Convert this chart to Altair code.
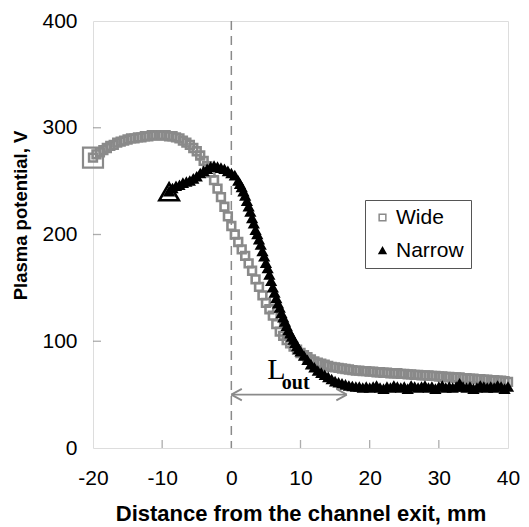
import altair as alt
import numpy as np
import pandas as pd

# ---------------- data ----------------
series_names = ["Wide", "Narrow"]

wide_x = np.arange(-20, 40.01, 0.5)
wide_y = [272, 275, 277, 279, 281, 283, 284, 286, 287, 288, 289, 290, 290, 291, 291, 292, 292, 293, 293, 293, 293,
          293, 292, 292, 291, 290, 288, 286, 284, 281, 278, 274, 269, 264, 258, 251, 243, 235, 226, 217, 208,
          200, 193, 186, 180, 173, 166, 158, 151, 143, 136, 130, 124, 116, 109, 105, 101, 98, 95, 92, 89,
          87, 85, 83, 81, 80, 79, 78, 77, 76, 75.5, 75, 74.5, 74, 73.5, 73, 72.5, 72.5, 72, 72, 71.5,
          71.5, 71, 71, 70.5, 70.5, 70, 70, 70, 69.5, 69.5, 69, 69, 68.5, 68.5, 68, 68, 68, 67.5, 67.5, 67,
          67, 66.5, 66.5, 66, 66, 66, 65.5, 65.5, 65, 65, 64.5, 64.5, 64, 64, 63.5, 63.5, 63, 63, 62.5, 62]

# narrow: 0.5 mm steps, finer (0.25 mm) sampling on the steep part
narrow_x = np.concatenate([np.arange(-9, 1, 0.5), np.arange(1, 10, 0.25), np.arange(10, 40.01, 0.5)])
narrow_y = [240, 243, 245, 246, 248, 249, 250, 252, 254, 257, 259, 261, 263, 264, 263, 262, 261, 259, 257, 255,
            250, 247, 244, 240, 236, 231, 226, 221, 215, 210, 204, 200, 195, 190, 184, 179, 173, 168,
            162, 156, 150, 145, 140, 135, 131, 126, 122, 118, 114, 110, 107, 104, 101, 98, 95, 92.5,
            90,
            86, 82, 78, 75, 72, 70, 68, 66, 64, 62, 61, 60, 59, 58, 57.5, 57, 57, 56, 57, 56,
            57, 58, 56, 55, 57, 56, 58, 57, 56, 57, 55, 58, 57, 56, 57, 58, 56, 57, 55, 57,
            58, 56, 57, 56, 57, 60, 57, 56, 57, 55, 56, 58, 57, 56, 57, 56, 58, 57, 55, 57]

x_tick_values = [-20, -10, 0, 10, 20, 30, 40]
y_tick_values = [0, 100, 200, 300, 400]
inner_x_ticks = [-10, 10, 20, 30]
inner_y_ticks = [100, 200, 300]

exit_position = [0]
lout_start = 0
lout_end = 16.7
lout_level = 50

df = pd.concat([
    pd.DataFrame({"x": wide_x, "y": wide_y, "series": "Wide"}),
    pd.DataFrame({"x": narrow_x, "y": narrow_y, "series": "Narrow"}),
], ignore_index=True)

GREY = "#8a8a8a"
FONT = "Liberation Sans"

xs = alt.Scale(domain=[-20, 40], nice=False, zero=False)
ys = alt.Scale(domain=[0, 400], nice=False)

x_enc = alt.X("x:Q", scale=xs, axis=alt.Axis(
    values=x_tick_values, labelExpr="toString(datum.value)", labelFlush=False,
    title="Distance from the channel exit, mm",
    titleFontWeight="bold", titleFontSize=22, titleFont=FONT, titleColor="black",
    labelFont=FONT, labelFontSize=21, labelColor="black", labelPadding=19,
    titlePadding=15, ticks=False, domain=False, grid=False))
y_enc = alt.Y("y:Q", scale=ys, axis=alt.Axis(
    values=y_tick_values, title="Plasma potential, V", labelFlush=False,
    titleFontWeight="bold", titleFontSize=18.5, titleFont=FONT, titleColor="black",
    titleX=-73, titleY=194, titleAlign="center", titleBaseline="middle",
    labelFont=FONT, labelFontSize=21, labelColor="black", labelPadding=16,
    ticks=False, domain=False, grid=False))

legend = alt.Legend(title=None, orient="none", legendX=272, legendY=179,
                    labelFont=FONT, labelFontSize=21, labelColor="black",
                    strokeColor="#555555", fillColor="white", padding=7,
                    rowPadding=11, symbolSize=45, symbolStrokeWidth=1.5,
                    symbolOffset=0, labelOffset=3)

points = alt.Chart(df).mark_point(size=60, strokeWidth=2.6, opacity=1).encode(
    x=x_enc, y=y_enc,
    shape=alt.Shape("series:N", scale=alt.Scale(domain=series_names, range=["square", "triangle-up"]), legend=legend),
    stroke=alt.Stroke("series:N", scale=alt.Scale(domain=series_names, range=[GREY, "#000000"]), legend=legend),
    fill=alt.Fill("series:N", scale=alt.Scale(domain=series_names, range=["transparent", "#000000"]), legend=legend),
)

big_wide = alt.Chart(pd.DataFrame({"x": [wide_x[0]], "y": [wide_y[0]]})).mark_point(
    shape="square", size=400, strokeWidth=2.2, filled=False, color=GREY, opacity=1).encode(
    x=alt.X("x:Q", scale=xs), y=alt.Y("y:Q", scale=ys))
big_narrow = alt.Chart(pd.DataFrame({"x": [narrow_x[0]], "y": [narrow_y[0]]})).mark_point(
    shape="triangle-up", size=380, strokeWidth=2.6, filled=False, color="black", opacity=1).encode(
    x=alt.X("x:Q", scale=xs), y=alt.Y("y:Q", scale=ys))

exit_line = alt.Chart(pd.DataFrame({"x": exit_position})).mark_rule(
    color=GREY, strokeWidth=1.5, strokeDash=[9, 6]).encode(x=alt.X("x:Q", scale=xs))

yt = alt.Chart(pd.DataFrame({"x": [-20] * len(inner_y_ticks), "y": inner_y_ticks})).mark_tick(
    orient="horizontal", size=8, thickness=1.3, color=GREY, xOffset=4).encode(
    x=alt.X("x:Q", scale=xs), y=alt.Y("y:Q", scale=ys))
xt = alt.Chart(pd.DataFrame({"x": inner_x_ticks, "y": [0] * len(inner_x_ticks)})).mark_tick(
    orient="vertical", size=8, thickness=1.3, color=GREY, yOffset=-4).encode(
    x=alt.X("x:Q", scale=xs), y=alt.Y("y:Q", scale=ys))

arrow_line = alt.Chart(pd.DataFrame({"x": [lout_start], "x2": [lout_end], "y": [lout_level]})).mark_rule(
    color=GREY, strokeWidth=1.8).encode(
    x=alt.X("x:Q", scale=xs), x2="x2:Q", y=alt.Y("y:Q", scale=ys))
head_left = alt.Chart(pd.DataFrame({"x": [lout_start], "y": [lout_level]})).mark_point(
    shape="M0,0L1,-0.55M0,0L1,0.55", size=440, strokeWidth=1.8, filled=False, color=GREY, opacity=1).encode(
    x=alt.X("x:Q", scale=xs), y=alt.Y("y:Q", scale=ys))
head_right = alt.Chart(pd.DataFrame({"x": [lout_end], "y": [lout_level]})).mark_point(
    shape="M0,0L-1,-0.55M0,0L-1,0.55", size=440, strokeWidth=1.8, filled=False, color=GREY, opacity=1).encode(
    x=alt.X("x:Q", scale=xs), y=alt.Y("y:Q", scale=ys))

lab_L = alt.Chart(pd.DataFrame({"x": [5.2], "y": [64.6], "t": ["L"]})).mark_text(
    font="Liberation Serif", fontSize=30, align="left", baseline="alphabetic", color="black").encode(
    x=alt.X("x:Q", scale=xs), y=alt.Y("y:Q", scale=ys), text="t:N")
lab_out = alt.Chart(pd.DataFrame({"x": [7.3], "y": [55], "t": ["out"]})).mark_text(
    font="Liberation Serif", fontSize=20, fontWeight="bold", align="left", baseline="alphabetic", color="black").encode(
    x=alt.X("x:Q", scale=xs), y=alt.Y("y:Q", scale=ys), text="t:N")

chart = alt.layer(exit_line, yt, xt, big_wide, big_narrow, points, arrow_line, head_left, head_right,
                  lab_L, lab_out).properties(
    width=415, height=427,
    padding={"left": 85, "top": 13, "right": 13, "bottom": 78},
    autosize=alt.AutoSizeParams(type="none"),
).configure_view(stroke="#7a7a7a", strokeWidth=2).configure(background="white")

chart.save("out.html", embed_options={"renderer": "svg", "actions": False})
